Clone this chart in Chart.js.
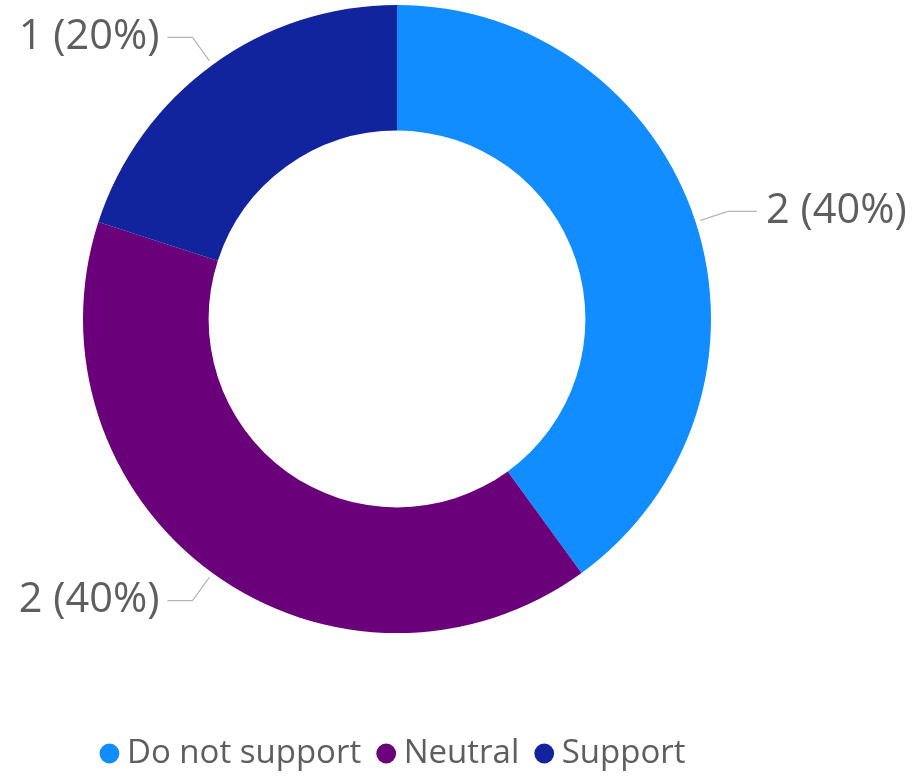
<!DOCTYPE html>
<html>
<head>
<meta charset="utf-8">
<script src="https://cdn.jsdelivr.net/npm/chart.js@4/dist/chart.umd.min.js"></script>
<style>
  html, body { margin: 0; padding: 0; background: #ffffff; }
  #wrap { width: 912px; height: 777px; }
</style>
</head>
<body>
<div id="wrap"><canvas id="c" width="912" height="777"></canvas></div>
<script>
const categories = ['Do not support', 'Neutral', 'Support'];
const values = [2, 2, 1];
const colors = ['#118DFF', '#6B007B', '#12239E'];

const textColor = '#605E5C';
const fontFamily = '"Open Sans", "Segoe UI", sans-serif';

const sliceLabels = {
  id: 'sliceLabels',
  afterDatasetsDraw(chart) {
    const ctx = chart.ctx;
    const meta = chart.getDatasetMeta(0);
    const data = chart.data.datasets[0].data;
    const total = data.reduce((a, b) => a + b, 0);
    meta.data.forEach((arc, i) => {
      const p = arc.getProps(['x', 'y', 'startAngle', 'endAngle', 'outerRadius'], true);
      const mid = (p.startAngle + p.endAngle) / 2;
      const c = Math.cos(mid), s = Math.sin(mid);
      const x0 = p.x + c * (p.outerRadius + 5), y0 = p.y + s * (p.outerRadius + 5);
      const x1 = p.x + c * (p.outerRadius + 34), y1 = p.y + s * (p.outerRadius + 34);
      const right = c >= 0;
      const x2 = x1 + (right ? 29 : -25);
      ctx.save();
      ctx.strokeStyle = '#B5B5B5';
      ctx.lineWidth = 1.2;
      ctx.beginPath();
      ctx.moveTo(x0, y0);
      ctx.lineTo(x1, y1);
      ctx.lineTo(x2, y1);
      ctx.stroke();
      ctx.font = '41.5px ' + fontFamily;
      ctx.fillStyle = textColor;
      ctx.textAlign = right ? 'left' : 'right';
      ctx.textBaseline = 'middle';
      const pct = Math.round(data[i] / total * 100);
      ctx.fillText(data[i] + ' (' + pct + '%)', x2 + (right ? 9 : -8), y1);
      ctx.restore();
    });
  }
};

new Chart(document.getElementById('c'), {
  type: 'doughnut',
  data: {
    labels: categories,
    datasets: [{
      data: values,
      backgroundColor: colors,
      borderWidth: 0,
      hoverOffset: 0
    }]
  },
  options: {
    responsive: false,
    animation: false,
    radius: 314,
    cutout: '60%',
    layout: { padding: { top: 5, left: 0, right: 118, bottom: -3 } },
    plugins: {
      tooltip: { enabled: false },
      legend: {
        position: 'bottom',
        align: 'center',
        title: { display: true, text: ' ', font: { size: 10 }, padding: { top: 0, bottom: 68 } },
        labels: {
          usePointStyle: true,
          pointStyle: 'circle',
          boxWidth: 2,
          boxHeight: 14,
          padding: 24,
          color: textColor,
          font: { size: 33, family: fontFamily }
        }
      }
    }
  },
  plugins: [sliceLabels]
});
</script>
</body>
</html>
